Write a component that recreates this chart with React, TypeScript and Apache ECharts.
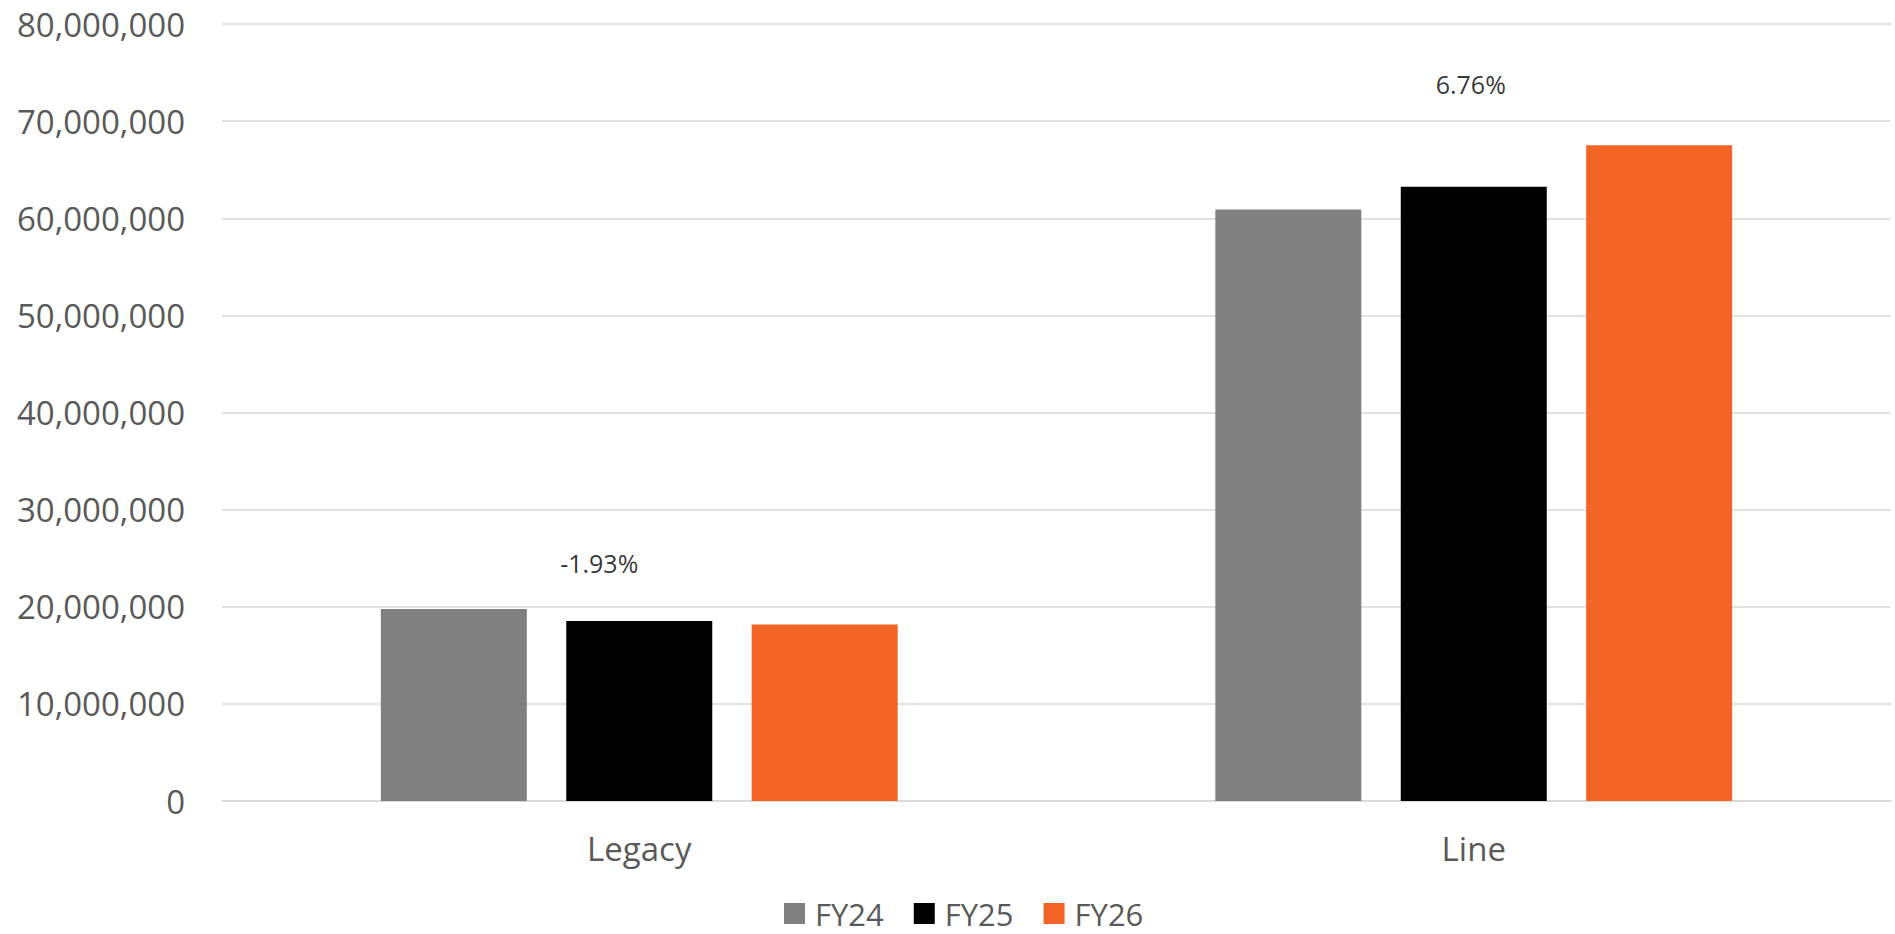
import React, { useEffect, useRef } from "react";
import * as echarts from "echarts";

const categories = ["Legacy", "Line"];
const seriesNames = ["FY24", "FY25", "FY26"];
const fy24 = [19760000, 60900000];
const fy25 = [18530000, 63240000];
const fy26 = [18170000, 67510000];
const growth = [-1.93, 6.76];
const yTicks = { min: 0, max: 80000000, interval: 10000000 };
const colors = ["#808080", "#000000", "#F26527"];

const FONT = "'Open Sans', 'Noto Sans', sans-serif";

export default function App() {
  const ref = useRef<HTMLDivElement>(null);
  useEffect(() => {
    if (!ref.current) return;
    const chart = echarts.init(ref.current, undefined, { renderer: "svg" });
    const values = [fy24, fy25, fy26];
    const labelOffsets = [[-40, 0], [-3, 0]];
    chart.setOption({
      animation: false,
      backgroundColor: "#ffffff",
      textStyle: { fontFamily: FONT },
      grid: { left: 222, right: 4, top: 24, bottom: 133, containLabel: false },
      legend: {
        data: seriesNames,
        left: 784,
        top: 898,
        padding: 0,
        itemWidth: 21,
        itemHeight: 21,
        itemGap: 30,
        icon: "rect",
        textStyle: {
          fontFamily: FONT,
          fontSize: 31,
          lineHeight: 28,
          color: "#595959",
          padding: [0, 0, 0, 5],
        },
      },
      xAxis: {
        type: "category",
        data: categories,
        axisTick: { show: false },
        axisLine: { show: true, lineStyle: { color: "#d9d9d9", width: 1.5 } },
        axisLabel: { fontFamily: FONT, fontSize: 33, color: "#595959", margin: 31 },
      },
      yAxis: [
        {
          type: "value",
          min: yTicks.min,
          max: yTicks.max,
          interval: yTicks.interval,
          axisLine: { show: false },
          axisTick: { show: false },
          splitLine: { lineStyle: { color: "#d9d9d9", width: 1.5 } },
          axisLabel: {
            fontFamily: FONT,
            fontSize: 33,
            color: "#595959",
            margin: 37,
            formatter: (v: number) => v.toLocaleString("en-US"),
          },
        },
        {
          type: "value",
          min: -6.26,
          max: 7.85,
          show: false,
          splitLine: { show: false },
        },
      ],
      series: [
        ...seriesNames.map((name, i) => ({
          name,
          type: "bar",
          data: values[i],
          barWidth: 146,
          barGap: "27%",
          itemStyle: { color: colors[i] },
        })),
        {
          name: "growth",
          type: "scatter",
          yAxisIndex: 1,
          symbolSize: 0,
          silent: true,
          data: growth.map((g, i) => ({
            value: g,
            label: { offset: labelOffsets[i] },
          })),
          label: {
            show: true,
            position: "inside",
            fontFamily: FONT,
            fontSize: 25,
            color: "#000000",
            formatter: (p: any) => p.value.toFixed(2) + "%",
          },
        },
      ],
    });
    return () => chart.dispose();
  }, []);
  return (
    <div
      ref={ref}
      style={{ position: "fixed", left: 0, top: 0, width: 1895, height: 934 }}
    />
  );
}
